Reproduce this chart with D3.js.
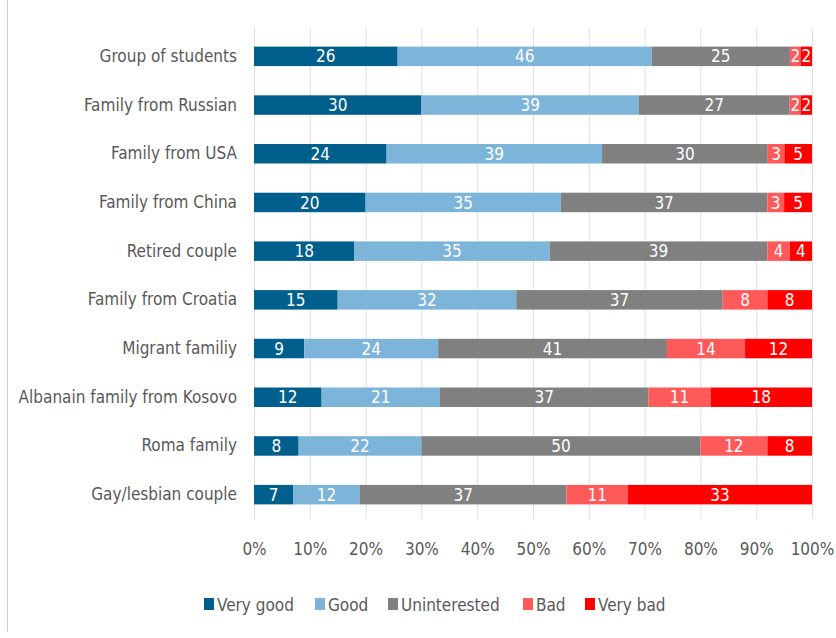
<!DOCTYPE html>
<html>
<head>
<meta charset="utf-8">
<script src="https://cdn.jsdelivr.net/npm/d3@7"></script>
<style>
  body { margin: 0; background: #fff; }
  svg, svg text { font-family: "DejaVu Sans Condensed", "Liberation Sans Narrow", sans-serif; font-stretch: condensed; }
</style>
</head>
<body>
<div id="chart"></div>
<script>
// categories, top to bottom
const categories = [
  "Group of students", "Family from Russian", "Family from USA", "Family from China",
  "Retired couple", "Family from Croatia", "Migrant familiy",
  "Albanain family from Kosovo", "Roma family", "Gay/lesbian couple"
];
const seriesNames = ["Very good", "Good", "Uninterested", "Bad", "Very bad"];
const veryGood     = [26, 30, 24, 20, 18, 15, 9, 12, 8, 7];
const good         = [46, 39, 39, 35, 35, 32, 24, 21, 22, 12];
const uninterested = [25, 27, 30, 37, 39, 37, 41, 37, 50, 37];
const bad          = [2, 2, 3, 3, 4, 8, 14, 11, 12, 11];
const veryBad      = [2, 2, 5, 5, 4, 8, 12, 18, 8, 33];
const tickValues = [0, 0.1, 0.2, 0.3, 0.4, 0.5, 0.6, 0.7, 0.8, 0.9, 1];
const colors = ["#005f8c", "#7db4da", "#808080", "#ff5a5a", "#ff0000"];

const width = 836, height = 638;
const x0 = 254, x1 = 812, yTop = 32, yBottom = 519;

const rows = categories.map((c, i) => ({
  cat: c,
  "Very good": veryGood[i], "Good": good[i], "Uninterested": uninterested[i],
  "Bad": bad[i], "Very bad": veryBad[i]
}));

// 100% stacked: each row normalised to its own total
const stack = d3.stack().keys(seriesNames).offset(d3.stackOffsetExpand);
const layers = stack(rows);

const x = d3.scaleLinear().domain([0, 1]).range([x0, x1]);
const y = d3.scaleBand().domain(categories).range([yTop, yBottom]).paddingInner(0.6).paddingOuter(0.3);
const color = d3.scaleOrdinal().domain(seriesNames).range(colors);

const svg = d3.select("#chart").append("svg")
  .attr("width", width)
  .attr("height", height);

// frame line on the left
svg.append("line")
  .attr("x1", 7.5).attr("x2", 7.5).attr("y1", 0).attr("y2", 632)
  .attr("stroke", "#d0d0d0");

// gridlines
svg.append("g")
  .selectAll("line")
  .data(tickValues)
  .enter().append("line")
  .attr("x1", d => x(d) + 0.5).attr("x2", d => x(d) + 0.5)
  .attr("y1", yTop - 4).attr("y2", yBottom)
  .attr("stroke", "#e0e0e0");

// bars
const layer = svg.append("g")
  .selectAll("g")
  .data(layers)
  .enter().append("g")
  .attr("fill", d => color(d.key));

layer.selectAll("rect")
  .data(d => d)
  .enter().append("rect")
  .attr("x", d => x(d[0]))
  .attr("width", d => x(d[1]) - x(d[0]))
  .attr("y", d => y(d.data.cat))
  .attr("height", y.bandwidth());

// value labels
const lbl = svg.append("g")
  .attr("fill", "#fff")
  .attr("font-size", 17)
  .attr("text-anchor", "middle");

layers.forEach(l => {
  lbl.selectAll(null)
    .data(l)
    .enter().append("text")
    .attr("x", d => (x(d[0]) + x(d[1])) / 2)
    .attr("y", d => y(d.data.cat) + y.bandwidth() / 2)
    .attr("dy", "0.36em")
    .text(d => d.data[l.key]);
});

// category axis
const yAxis = svg.append("g")
  .attr("transform", `translate(${x0 - 17},0)`)
  .call(d3.axisLeft(y).tickSize(0).tickPadding(0));
yAxis.select(".domain").remove();
yAxis.selectAll("text")
  .attr("font-size", 17)
  .attr("fill", "#595959");

// x axis
const xAxis = svg.append("g")
  .attr("transform", `translate(0,${yBottom + 24})`)
  .call(d3.axisBottom(x).tickValues(tickValues).tickFormat(d3.format(".0%")).tickSize(0).tickPadding(0));
xAxis.select(".domain").remove();
xAxis.selectAll("text")
  .attr("font-size", 17)
  .attr("fill", "#595959");

// legend
const legendX = [204, 315, 388, 523, 585];
const legend = svg.append("g")
  .selectAll("g")
  .data(seriesNames)
  .enter().append("g")
  .attr("transform", (d, i) => `translate(${legendX[i]},605)`);
legend.append("rect")
  .attr("x", 0).attr("y", -7).attr("width", 10).attr("height", 12)
  .attr("fill", d => color(d));
legend.append("text")
  .attr("x", 13).attr("y", 0).attr("dy", "0.36em")
  .attr("font-size", 17)
  .attr("fill", "#595959")
  .text(d => d);
</script>
</body>
</html>
